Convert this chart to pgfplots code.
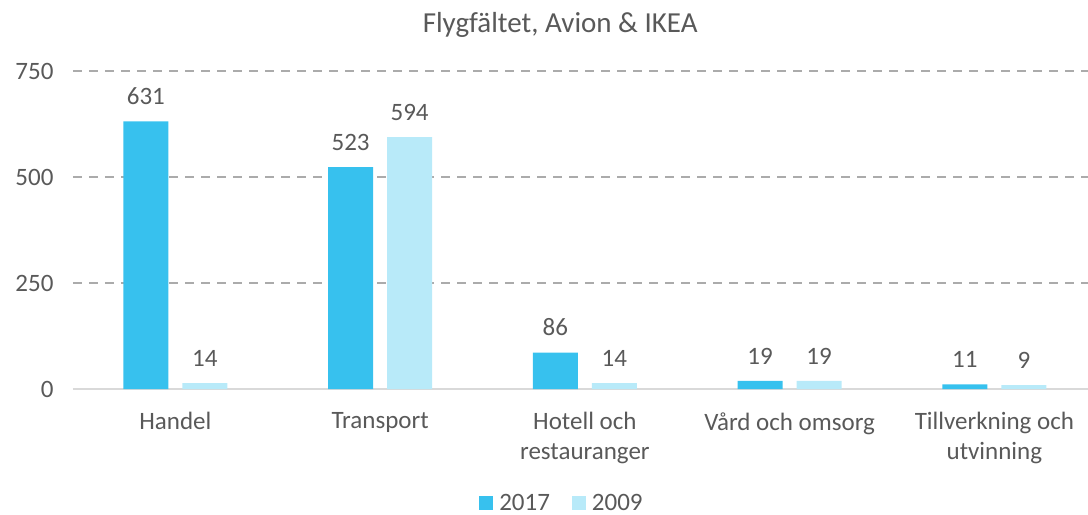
\documentclass[border=0pt]{standalone}
\usepackage{pgfplots}
\pgfplotsset{compat=1.18}
\usepackage{fontspec}
\setmainfont{Carlito}
\definecolor{bA}{HTML}{37C1EE}
\definecolor{bB}{HTML}{B8EAF9}
\definecolor{txt}{HTML}{595959}
\definecolor{gridc}{HTML}{ABABAB}
\definecolor{axc}{HTML}{D9D9D9}
\newcommand{\lbl}{\fontsize{25bp}{30bp}\selectfont}
\begin{document}
\begin{tikzpicture}
\useasboundingbox (-73bp,-126bp) rectangle (1015bp,389bp);
\begin{axis}[
  at={(0,0)}, anchor=south west,
  scale only axis, width=1015bp, height=318bp,
  clip=false,
  ybar=14bp, bar width=45bp,
  xmin=-0.5, xmax=4.457,
  ymin=0, ymax=750,
  xtick={0,1,2,3,4},
  xticklabels={Handel,Transport,{Hotell och\\restauranger},{Vård och omsorg},{Tillverkning och\\utvinning}},
  xticklabel style={align=center, font=\lbl, text=txt, yshift=-20bp},
  ytick={250,500,750},
  extra y ticks={0},
  extra y tick style={grid=none},
  yticklabel style={font=\lbl, text=txt, xshift=-16bp},
  /pgf/number format/assume math mode=true,
  major tick length=0pt,
  ymajorgrids,
  grid style={color=gridc, line width=1.5bp, dash pattern=on 9bp off 7bp},
  axis x line*=bottom,
  axis y line*=left,
  y axis line style={draw=none},
  x axis line style={color=axc, line width=2bp, -},
  nodes near coords,
  every node near coord/.append style={font=\lbl, text=txt, yshift=13bp},
  legend style={at={(0.4837,-0.36)}, anchor=center, draw=none, fill=none, font=\lbl, text=txt,
    legend columns=2, /tikz/every even column/.append style={column sep=16bp},
    nodes={inner ysep=0pt, inner xsep=6bp}},
  legend image code/.code={\fill[#1] (0bp,-7bp) rectangle (14bp,7bp);},
]
\addplot[fill=bA, draw=none] coordinates {(0,631) (1,523) (2,86) (3,19) (4,11)};
\addplot[fill=bB, draw=none] coordinates {(0,14) (1,594) (2,14) (3,19) (4,9)};
\legend{2017,2009}
\node[font=\fontsize{29bp}{34bp}\selectfont, text=txt, anchor=base] at (rel axis cs:0.48,1) [yshift=39bp] {Flygfältet, Avion \& IKEA};
\end{axis}
\end{tikzpicture}
\end{document}
